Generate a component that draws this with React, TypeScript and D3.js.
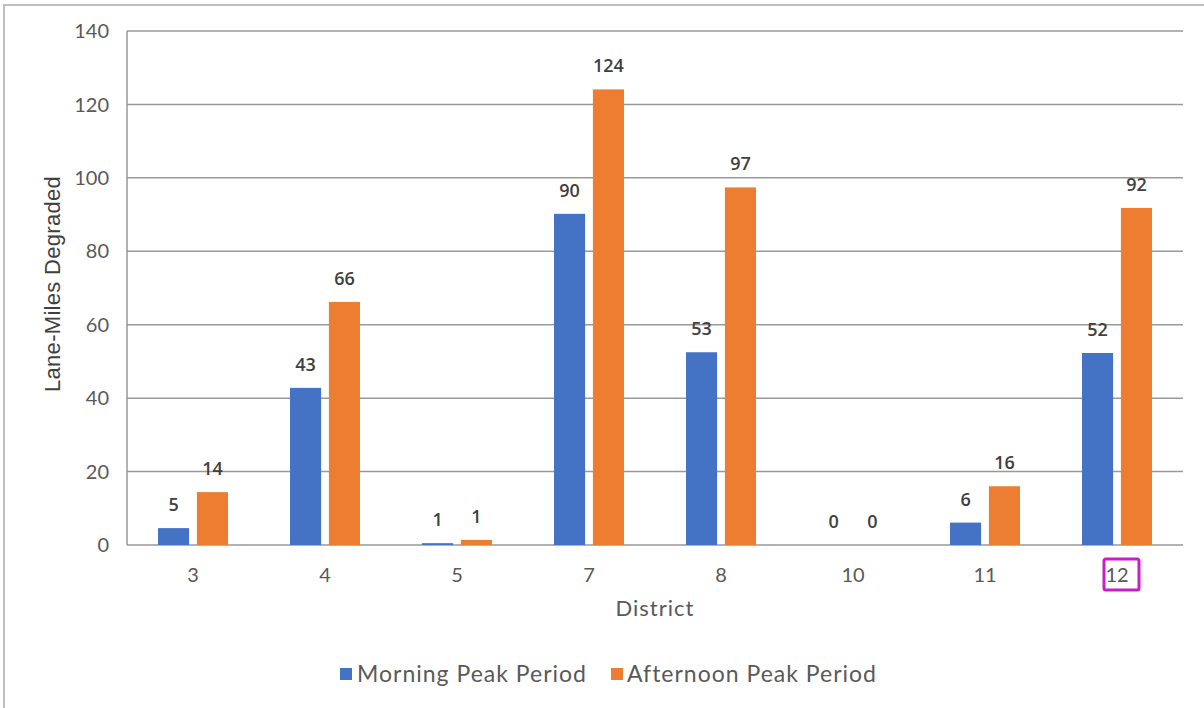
import React from "react";
import * as d3 from "d3";

// data
const districts = ["3", "4", "5", "7", "8", "10", "11", "12"];
const seriesNames = ["Morning Peak Period", "Afternoon Peak Period"];
const morning = [4.6, 42.8, 0.5, 90.2, 52.5, 0, 6.1, 52.3];
const afternoon = [14.4, 66.2, 1.4, 124.1, 97.4, 0, 16, 91.8];
const yTicks = [0, 20, 40, 60, 80, 100, 120, 140];
const highlighted = "12";

const W = 1204;
const H = 708;
const margin = { top: 31, right: 21, bottom: 163, left: 127 };
const colors = ["#4472C4", "#ED7D31"];

const tickFont = "Lato, 'DejaVu Sans', sans-serif";
const labelFont = "'Open Sans', 'Liberation Sans', sans-serif";

const App: React.FC = () => {
  const plotW = W - margin.left - margin.right;
  const plotH = H - margin.top - margin.bottom;

  const x = d3.scaleBand<string>().domain(districts).range([0, plotW]).padding(0);
  const y = d3.scaleLinear().domain([0, 140]).range([plotH, 0]);
  const inner = d3
    .scaleBand<number>()
    .domain([0, 1])
    .range([-35, 35])
    .paddingInner(0.2)
    .paddingOuter(0);

  const series = [morning, afternoon];
  const bw = x.bandwidth();

  return (
    <svg
      width={W}
      height={H}
      style={{ position: "absolute", left: 0, top: 0, background: "#fff" }}
    >
      {/* outer frame */}
      <rect x={4} y={5} width={W + 20} height={H + 20} fill="#fff" stroke="#bfbfbf" strokeWidth={2} />

      <g transform={`translate(${margin.left},${margin.top})`}>
        {/* gridlines */}
        {yTicks.map((t) => (
          <line key={t} x1={0} x2={plotW} y1={y(t)} y2={y(t)} stroke="#999" strokeWidth={1.5} />
        ))}
        <line x1={0} x2={0} y1={0} y2={plotH} stroke="#999" strokeWidth={1.5} />

        {/* y tick labels */}
        {yTicks.map((t) => (
          <text
            key={"yl" + t}
            x={-18}
            y={y(t)}
            dy="0.36em"
            textAnchor="end"
            fontFamily={tickFont}
            fontSize={20}
            fill="#595959"
          >
            {t}
          </text>
        ))}

        {/* bars */}
        {series.map((vals, si) =>
          vals.map((v, i) => {
            const cx = (x(districts[i]) ?? 0) + bw / 2;
            const bx = cx + (inner(si) ?? 0);
            return (
              <g key={`b${si}-${i}`}>
                <rect
                  x={bx}
                  y={y(v)}
                  width={inner.bandwidth()}
                  height={plotH - y(v)}
                  fill={colors[si]}
                />
                <text
                  x={bx + inner.bandwidth() / 2}
                  y={y(v) - 17}
                  textAnchor="middle"
                  fontFamily={labelFont}
                  fontSize={18}
                  fontWeight={600}
                  fill="#404040"
                >
                  {Math.round(v)}
                </text>
              </g>
            );
          })
        )}

        {/* x tick labels */}
        {districts.map((d) => (
          <text
            key={"xl" + d}
            x={(x(d) ?? 0) + bw / 2}
            y={plotH + 30}
            dy="0.36em"
            textAnchor="middle"
            fontFamily={tickFont}
            fontSize={20}
            fill="#595959"
          >
            {d}
          </text>
        ))}

        {/* highlight box around district 12 */}
        <rect
          x={(x(highlighted) ?? 0) + bw / 2 - 13}
          y={plotH + 14}
          width={35}
          height={31}
          rx={2}
          fill="none"
          stroke="#C81EC8"
          strokeWidth={3}
        />

        {/* axis titles */}
        <text
          x={plotW / 2}
          y={plotH + 63}
          dy="0.36em"
          textAnchor="middle"
          fontFamily={tickFont}
          fontSize={22}
          letterSpacing={1}
          fill="#595959"
        >
          District
        </text>
      </g>

      <text
        transform={`translate(52,${margin.top + plotH / 2 - 4}) rotate(-90)`}
        textAnchor="middle"
        dy="0.36em"
        fontFamily="'Liberation Sans', Arial, sans-serif"
        fontSize={22}
        letterSpacing={0.3}
        fill="#404040"
      >
        Lane-Miles Degraded
      </text>

      {/* legend */}
      <g transform="translate(340,674)">
        <rect x={0} y={-6} width={12} height={12} fill={colors[0]} />
        <text x={17} y={0} dy="0.36em" fontFamily={tickFont} fontSize={23} letterSpacing={1} fill="#595959">
          {seriesNames[0]}
        </text>
        <rect x={271} y={-6} width={12} height={12} fill={colors[1]} />
        <text x={287} y={0} dy="0.36em" fontFamily={tickFont} fontSize={23} letterSpacing={1} fill="#595959">
          {seriesNames[1]}
        </text>
      </g>
    </svg>
  );
};

export default App;
